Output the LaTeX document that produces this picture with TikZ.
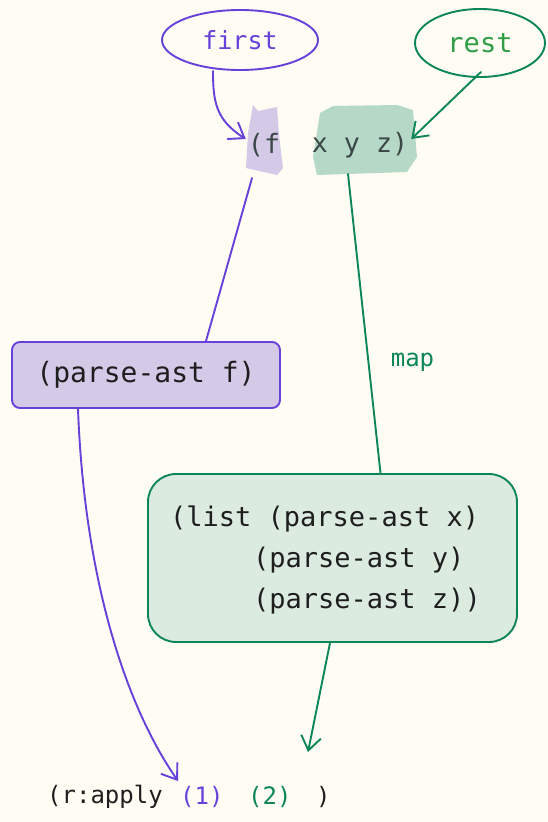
\documentclass[tikz,border=0pt]{standalone}
\usepackage{fontspec}
\newfontfamily\code{DejaVu Sans Mono}
\usetikzlibrary{shapes.geometric,arrows.meta}
\definecolor{bg}{HTML}{FFFCF4}
\definecolor{vio}{HTML}{6741D9}
\definecolor{viofill}{HTML}{D5C9E8}
\definecolor{grn}{HTML}{0C8559}
\definecolor{grntext}{HTML}{2F9E44}
\definecolor{grnhl}{HTML}{B6D9C7}
\definecolor{grnfill}{HTML}{DCEBDF}
\definecolor{ink}{HTML}{1E1E1E}
\definecolor{slate}{HTML}{3B4747}
\begin{document}
\begin{tikzpicture}[x=1pt,y=-1pt,
  txt/.style={inner sep=0pt},
  stroke/.style={line width=1.9pt, line cap=round, line join=round},
  arr/.style={stroke, -{Straight Barb[length=14pt,width=20pt,line width=1.9pt]}},
  bubble/.style={ellipse, draw, stroke, inner sep=0pt}
]
\fill[bg] (0,0) rectangle (548,822);
\useasboundingbox (0,0) rectangle (548,822);

% ellipses
\node[bubble, draw=vio, text=vio, minimum width=156pt, minimum height=60pt,
      font={\code\fontsize{25}{28}\selectfont}] (first) at (240,40) {first};
\node[bubble, draw=grn, text=grntext, minimum width=130pt, minimum height=68pt,
      font={\code\fontsize{27}{30}\selectfont}] (rest) at (480,43) {rest};

% highlights
\fill[viofill] (253,105) -- (258,111) -- (277,107) -- (279,135) -- (283,168) -- (277,175) -- (246,168) -- (248,133) -- cycle;
\fill[grnhl] (320,113) -- (333,106) -- (397,105) -- (413,110) -- (417,157) -- (407,172) -- (317,175) -- (313,157) -- cycle;
\coordinate (fhl) at (252,178);
\coordinate (xyzhl) at (348,174);

% the form
\node[txt, text=slate, font={\code\fontsize{26.6}{30}\selectfont}] (fnode) at (264,145) {(f};
\node[txt, text=slate, font={\code\fontsize{26.6}{30}\selectfont}] (xyz) at (360,145) {x y z)};

% boxes
\node[draw=vio, fill=viofill, stroke, rounded corners=8pt, minimum width=268pt, minimum height=66pt,
      text=ink, font={\code\fontsize{28}{32}\selectfont}] (parse) at (146,375) {(parse-ast f)};
\node[draw=grn, fill=grnfill, stroke, rounded corners=28pt, minimum width=369pt, minimum height=168pt] (list) at (332.5,558) {};
\node[txt, anchor=west, align=left, text=ink, font={\code\fontsize{27}{41}\selectfont}] (listtext) at (170,560)
  {(list (parse-ast x)\\\hspace*{83pt}(parse-ast y)\\\hspace*{83pt}(parse-ast z))};

% bottom line
\node[txt, anchor=west, text=ink, font={\code\fontsize{24}{28}\selectfont}] (rapply) at (47,797) {(r:apply};
\node[txt, anchor=west, text=vio, font={\code\fontsize{24}{28}\selectfont}] (one) at (180,797) {(1)};
\node[txt, anchor=west, text=grn, font={\code\fontsize{24}{28}\selectfont}] (two) at (248,797) {(2)};
\node[txt, anchor=west, text=ink, font={\code\fontsize{24}{28}\selectfont}] (close) at (316,797) {)};
\coordinate (onetip) at (178,781);
\coordinate (twotip) at (308,752);

% connectors
\draw[arr, vio] ([xshift=-27pt]first.south) .. controls (213,102) and (216,120) .. ([xshift=-2pt,yshift=6pt]fnode.west);
\draw[arr, grn] ([xshift=1pt,yshift=6pt]rest.south) -- ([xshift=3pt,yshift=6pt]xyz.east);
\draw[stroke, vio] (fhl) -- ([xshift=60pt]parse.north);
\draw[stroke, grn] (xyzhl) -- node[pos=0.63, xshift=44pt, text=grn, font={\code\fontsize{24}{28}\selectfont}] (maplbl) {map} ([xshift=48pt]list.north);
\draw[arr, vio] ([xshift=-68pt]parse.south) .. controls (84,570) and (122,700) .. (onetip);
\draw[arr, grn] ([xshift=-2.5pt]list.south) -- (twotip);
\end{tikzpicture}
\end{document}
